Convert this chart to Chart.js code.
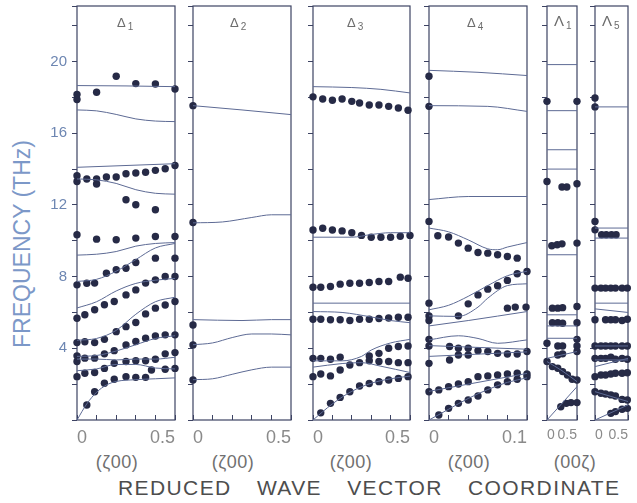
<!DOCTYPE html>
<html>
<head>
<meta charset="utf-8">
<script src="https://cdn.jsdelivr.net/npm/chart.js@4.4.1/dist/chart.umd.min.js"></script>
<style>
  body { margin: 0; background: #fff; }
  #wrap { position: relative; width: 637px; height: 503px; overflow: hidden; font-family: "Liberation Sans", "DejaVu Sans", sans-serif; }
  canvas { position: absolute; }
  .lbl { position: absolute; white-space: nowrap; color: #6c6c6c; }
  .pname { font-size: 13px; line-height: 13px; }
  .pname sub { font-size: 10px; vertical-align: -3px; margin-left: 2px; }
  .qlbl { font-size: 18px; color: #707070; letter-spacing: 0.5px; transform: translateX(-50%); top: 452px; }
  #ytitle { left: 22px; top: 244px; font-size: 23px; color: #7c98c8; transform: translate(-50%, -50%) rotate(-90deg); }
  #xtitle { left: 118px; top: 476px; font-size: 21px; color: #4d4d4d; letter-spacing: 1.4px; word-spacing: 18px; }
</style>
</head>
<body>
<div id="wrap">
  <div class="lbl" id="ytitle">FREQUENCY (THz)</div>
  <div class="lbl" id="xtitle">REDUCED WAVE VECTOR COORDINATE</div>
</div>
<script>
// frequency axis (THz)
const freqMax = 23.1;
const freqStep = 2;
const freqLabels = ["4", "8", "12", "16", "20"];

// --- Δ1 ---
const d1Lines = [
  [[0, 18.66], [0.25, 18.64], [0.5, 18.6]],
  [[0, 17.3], [0.1, 17.25], [0.2, 17.05], [0.3, 16.8], [0.4, 16.68], [0.5, 16.65]],
  [[0, 14.1], [0.25, 14.2], [0.5, 14.3]],
  [[0, 13.45], [0.1, 13.4], [0.2, 13.2], [0.3, 12.85], [0.4, 12.65], [0.5, 12.6]],
  [[0, 9.2], [0.1, 9.25], [0.2, 9.4], [0.3, 9.7], [0.4, 9.85], [0.5, 9.9]],
  [[0, 7.73], [0.1, 7.85], [0.2, 8.3], [0.3, 8.95], [0.4, 9.6], [0.5, 9.85]],
  [[0, 6.25], [0.1, 6.6], [0.2, 7.2], [0.3, 7.62], [0.4, 7.8], [0.5, 7.9]],
  [[0, 4.45], [0.1, 4.55], [0.2, 5.0], [0.3, 5.9], [0.4, 6.6], [0.5, 6.85]],
  [[0, 3.55], [0.1, 3.6], [0.2, 3.85], [0.3, 4.2], [0.4, 4.55], [0.5, 4.7]],
  [[0, 3.4], [0.1, 3.4], [0.2, 3.35], [0.3, 3.4], [0.4, 3.4], [0.5, 3.5]],
  [[0, 2.75], [0.1, 2.85], [0.2, 3.1], [0.3, 3.1], [0.4, 2.9], [0.5, 2.85]],
  [[0, 0], [0.05, 0.9], [0.1, 1.55], [0.15, 1.95], [0.2, 2.15], [0.3, 2.25], [0.4, 2.3], [0.5, 2.35]]
];
const d1Dots = [
  [0, 18.16], [0, 17.88], [0.1, 18.29], [0.2, 19.18], [0.3, 18.77], [0.4, 18.75], [0.5, 18.47],
  [0, 13.63], [0, 13.31], [0.05, 13.45], [0.1, 13.45], [0.1, 13.17], [0.15, 13.56], [0.2, 13.56],
  [0.25, 13.74], [0.3, 13.78], [0.35, 13.82], [0.4, 13.93], [0.45, 14.02], [0.5, 14.2],
  [0.25, 12.29], [0.3, 12.01], [0.4, 11.73],
  [0, 10.34], [0.1, 10.09], [0.2, 10.06], [0.3, 10.15], [0.4, 10.24], [0.5, 10.24],
  [0, 7.54], [0.05, 7.63], [0.09, 7.64], [0.15, 8.19], [0.2, 8.38], [0.25, 8.47], [0.3, 8.79], [0.4, 9.03], [0.5, 9.03],
  [0, 5.68], [0.04, 5.87], [0.09, 6.15], [0.14, 6.43], [0.19, 6.61], [0.25, 6.98], [0.3, 7.26],
  [0.35, 7.64], [0.4, 7.82], [0.45, 8.01], [0.5, 8.01],
  [0, 4.32], [0.04, 4.37], [0.09, 4.32], [0.14, 4.5], [0.2, 4.93], [0.25, 5.21], [0.3, 5.44],
  [0.35, 5.92], [0.4, 6.24], [0.45, 6.42], [0.5, 6.61],
  [0, 3.58], [0.04, 3.45], [0.09, 3.45], [0.14, 3.69], [0.19, 3.87], [0.25, 4.19], [0.3, 4.38],
  [0.35, 4.56], [0.4, 4.69], [0.45, 4.75], [0.5, 4.75],
  [0, 3.26], [0.19, 3.17], [0.25, 3.26], [0.3, 3.31], [0.35, 3.31], [0.4, 3.39], [0.45, 3.69], [0.5, 3.76],
  [0, 2.42], [0.04, 2.61], [0.09, 2.65], [0.14, 2.88], [0.38, 2.79], [0.45, 2.83], [0.5, 2.88],
  [0.05, 0.84], [0.09, 1.58], [0.14, 2.05], [0.19, 2.27], [0.25, 2.42], [0.3, 2.38], [0.35, 2.38]
];

// --- Δ2 ---
const d2Lines = [
  [[0, 17.54], [0.25, 17.3], [0.5, 17.04]],
  [[0, 11.0], [0.15, 11.05], [0.3, 11.3], [0.4, 11.45], [0.5, 11.45]],
  [[0, 5.6], [0.25, 5.55], [0.4, 5.6], [0.5, 5.6]],
  [[0, 4.2], [0.1, 4.3], [0.2, 4.6], [0.3, 4.8], [0.4, 4.8], [0.5, 4.75]],
  [[0, 2.25], [0.1, 2.3], [0.2, 2.55], [0.3, 2.8], [0.4, 2.95], [0.5, 2.95]]
];
const d2Dots = [[0, 17.54], [0, 11.02], [0, 5.3], [0, 4.19], [0, 2.23]];

// --- Δ3 ---
const d3Lines = [
  [[0, 18.6], [0.2, 18.55], [0.35, 18.45], [0.5, 18.25]],
  [[0, 10.2], [0.2, 10.2], [0.3, 10.35], [0.4, 10.45], [0.5, 10.45]],
  [[0, 6.52], [0.5, 6.52]],
  [[0, 6.05], [0.15, 6.0], [0.3, 5.75], [0.4, 5.55], [0.5, 5.43]],
  [[0, 3.3], [0.15, 3.3], [0.25, 3.55], [0.3, 3.9], [0.4, 4.3], [0.5, 4.5]],
  [[0, 2.95], [0.15, 3.15], [0.25, 3.2], [0.35, 3.0], [0.5, 2.65]],
  [[0, 0], [0.1, 0.9], [0.2, 1.6], [0.3, 2.05], [0.4, 2.3], [0.5, 2.45]]
];
const d3Dots = [
  [0, 18.03], [0.05, 17.91], [0.1, 17.84], [0.15, 17.91], [0.2, 17.78], [0.24, 17.69],
  [0.29, 17.58], [0.34, 17.58], [0.39, 17.5], [0.44, 17.41], [0.49, 17.28],
  [0, 10.6], [0.05, 10.7], [0.1, 10.6], [0.15, 10.55], [0.2, 10.45], [0.25, 10.3],
  [0.3, 10.2], [0.35, 10.2], [0.4, 10.2], [0.45, 10.25], [0.5, 10.3],
  [0, 7.41], [0.04, 7.41], [0.09, 7.45], [0.14, 7.58], [0.19, 7.63], [0.24, 7.63],
  [0.29, 7.67], [0.34, 7.73], [0.39, 7.73], [0.45, 7.97], [0.49, 7.91],
  [0, 5.62], [0.04, 5.62], [0.09, 5.59], [0.14, 5.59], [0.19, 5.55], [0.24, 5.62],
  [0.29, 5.62], [0.34, 5.66], [0.39, 5.69], [0.44, 5.73], [0.49, 5.73],
  [0, 3.44], [0.04, 3.44], [0.09, 3.39], [0.14, 3.5], [0.29, 3.57], [0.34, 3.72], [0.39, 4.0], [0.44, 4.1], [0.49, 4.13],
  [0.19, 3.07], [0.24, 3.2], [0.29, 3.31], [0.34, 3.26], [0.39, 3.26], [0.44, 3.2], [0.49, 3.2],
  [0, 2.42], [0.04, 2.57], [0.09, 2.46], [0.14, 2.79],
  [0.04, 0.4], [0.09, 0.93], [0.14, 1.26], [0.19, 1.58], [0.24, 1.9], [0.29, 2.04],
  [0.34, 2.14], [0.39, 2.23], [0.44, 2.32], [0.49, 2.42]
];

// --- Δ4 ---
const d4Lines = [
  [[0, 19.51], [0.05, 19.4], [0.1, 19.22]],
  [[0, 17.54], [0.06, 17.5], [0.1, 17.22]],
  [[0, 12.3], [0.04, 12.47], [0.1, 12.47]],
  [[0, 10.71], [0.02, 10.5], [0.04, 10.05], [0.06, 9.55], [0.07, 9.5], [0.08, 9.65], [0.1, 9.9]],
  [[0, 6.15], [0.02, 6.4], [0.04, 6.9], [0.06, 7.5], [0.08, 8.05], [0.1, 8.3]],
  [[0, 5.81], [0.03, 5.78], [0.05, 6.3], [0.06, 6.8], [0.08, 7.5], [0.1, 7.6]],
  [[0, 5.25], [0.04, 5.55], [0.1, 6.05]],
  [[0, 4.47], [0.03, 4.7], [0.05, 4.55], [0.07, 4.28], [0.1, 4.47]],
  [[0, 4.15], [0.05, 4.05], [0.1, 3.95]],
  [[0, 3.55], [0.1, 3.8]],
  [[0, 1.6], [0.05, 2.1], [0.1, 2.6]],
  [[0, 0], [0.02, 0.6], [0.04, 1.2], [0.06, 1.7], [0.08, 2.1], [0.1, 2.35]]
];
const d4Dots = [
  [0, 19.18], [0, 17.5], [0, 11.08],
  [0.009, 10.28], [0.02, 10.21], [0.03, 9.87], [0.04, 9.59], [0.05, 9.35], [0.06, 9.31], [0.07, 9.22], [0.08, 9.12], [0.09, 9.03],
  [0, 6.52], [0, 5.8], [0, 5.55],
  [0.03, 5.81], [0.04, 6.48], [0.05, 6.98], [0.06, 7.3], [0.07, 7.49], [0.08, 7.79], [0.09, 8.16], [0.1, 8.29],
  [0.08, 6.24], [0.088, 6.3], [0.099, 6.3],
  [0, 4.5], [0, 4.13], [0, 3.16],
  [0.021, 4.1], [0.03, 4.0], [0.04, 4.0], [0.05, 3.87], [0.06, 3.82], [0.07, 3.72], [0.08, 3.68], [0.09, 3.68], [0.1, 3.82],
  [0.021, 3.35], [0.03, 3.63], [0.04, 3.63],
  [0, 1.58], [0.01, 1.68], [0.02, 1.86], [0.03, 2.01], [0.04, 2.14], [0.05, 2.42], [0.06, 2.46],
  [0.07, 2.51], [0.08, 2.57], [0.09, 2.61], [0.1, 2.57],
  [0.01, 0.28], [0.02, 0.65], [0.03, 0.93], [0.04, 1.12], [0.05, 1.34], [0.06, 1.68], [0.07, 1.96],
  [0.08, 2.14], [0.09, 2.27], [0.1, 2.42]
];

// --- Λ1 ---
const l1Lines = [
  [[0, 19.83], [0.5, 19.83]], [[0, 17.26], [0.5, 17.26]], [[0, 15.08], [0.5, 15.08]],
  [[0, 14.0], [0.5, 14.0]], [[0, 9.22], [0.5, 9.22]], [[0, 5.87], [0.5, 5.87]],
  [[0, 5.25], [0.5, 5.25]], [[0, 4.56], [0.5, 4.56]],
  [[0, 3.44], [0.5, 3.82]],
  [[0, 3.26], [0.25, 2.75], [0.5, 2.14]],
  [[0, 0], [0.5, 1.86]]
];
const l1Dots = [
  [0, 17.78], [0.5, 17.78], [0, 13.31], [0.5, 13.18], [0.25, 13.0], [0.33, 13.0],
  [0.08, 9.72], [0.17, 9.78], [0.25, 9.83], [0.5, 9.87],
  [0.09, 6.24], [0.18, 6.24], [0.26, 6.27], [0.5, 6.33],
  [0.09, 5.43], [0.18, 5.43], [0.26, 5.4], [0.5, 5.43],
  [0, 4.28], [0.18, 4.13], [0.26, 4.13], [0.5, 4.5], [0.5, 4.13], [0.5, 3.82],
  [0.18, 3.63], [0.26, 3.69],
  [0, 3.26], [0.09, 2.98], [0.18, 2.89], [0.26, 2.7], [0.34, 2.51], [0.42, 2.27], [0.5, 2.23],
  [0.23, 0.74], [0.32, 0.93], [0.4, 0.97], [0.5, 0.97]
];

// --- Λ5 ---
const l5Lines = [
  [[0, 17.47], [0.5, 17.47]], [[0, 10.71], [0.5, 10.71]], [[0, 10.15], [0.5, 10.15]],
  [[0, 6.52], [0.5, 6.52]], [[0, 6.2], [0.5, 6.0]], [[0, 4.13], [0.5, 4.13]],
  [[0, 3.35], [0.5, 3.35]], [[0, 2.98], [0.5, 3.44]],
  [[0, 1.58], [0.5, 1.03]], [[0, 0], [0.5, 0.84]]
];
const l5Dots = [
  [0, 17.97], [0, 17.47], [0, 11.08], [0, 10.61], [0.1, 10.34], [0.17, 10.34], [0.25, 10.34], [0.32, 10.34],
  [0, 7.36], [0.09, 7.36], [0.16, 7.36], [0.24, 7.36], [0.31, 7.36], [0.41, 7.36], [0.49, 7.36],
  [0, 5.59], [0.16, 5.59], [0.24, 5.59], [0.31, 5.59], [0.41, 5.55], [0.49, 5.62],
  [0, 4.13], [0.09, 4.13], [0.16, 4.13], [0.24, 4.13], [0.31, 4.13], [0.41, 4.13], [0.49, 4.13],
  [0, 3.44], [0.09, 3.44], [0.16, 3.44], [0.24, 3.5], [0.31, 3.39], [0.41, 3.44], [0.49, 3.39],
  [0, 2.42], [0.09, 2.51], [0.16, 2.51], [0.24, 2.57], [0.31, 2.61], [0.41, 2.61], [0.49, 2.64],
  [0, 1.58], [0.09, 1.49], [0.16, 1.45], [0.24, 1.4], [0.31, 1.34], [0.41, 1.15], [0.49, 1.12],
  [0.24, 0.37], [0.31, 0.47], [0.41, 0.6], [0.49, 0.65]
];

const panels = [
  { name: "Δ", sub: "1", lines: d1Lines, dots: d1Dots, xMax: 0.5, xStep: 0.1, xLabels: ["0", "0.5"] },
  { name: "Δ", sub: "2", lines: d2Lines, dots: d2Dots, xMax: 0.5, xStep: 0.1, xLabels: ["0", "0.5"] },
  { name: "Δ", sub: "3", lines: d3Lines, dots: d3Dots, xMax: 0.5, xStep: 0.1, xLabels: ["0", "0.5"] },
  { name: "Δ", sub: "4", lines: d4Lines, dots: d4Dots, xMax: 0.1, xStep: 0.02, xLabels: ["0", "0.1"] },
  { name: "Λ", sub: "1", lines: l1Lines, dots: l1Dots, xMax: 0.5, xStep: 0.5, xLabels: ["0", "0.5"] },
  { name: "Λ", sub: "5", lines: l5Lines, dots: l5Dots, xMax: 0.5, xStep: 0.5, xLabels: ["0", "0.5"] }
];

// direction labels under the panels
const dirLabels = [
  { text: "(ζ00)", x: 117 },
  { text: "(ζ00)", x: 233 },
  { text: "(ζ00)", x: 351 },
  { text: "(ζ00)", x: 469 },
  { text: "(00ζ)", x: 575 }
];

// page layout of the six frames
const boxes = [
  { left: 77, width: 98, padL: 77, nameX: 117, nameSize: 13, tickSize: 18 },
  { left: 193, width: 98, padL: 14, nameX: 230, nameSize: 13, tickSize: 18 },
  { left: 313, width: 97, padL: 14, nameX: 347, nameSize: 13, tickSize: 18 },
  { left: 429, width: 98, padL: 14, nameX: 467, nameSize: 13, tickSize: 18 },
  { left: 547, width: 30, padL: 14, nameX: 554, nameSize: 15, tickSize: 14 },
  { left: 595, width: 33, padL: 14, nameX: 602, nameSize: 15, tickSize: 14 }
];

const frameColor = "#3d4363";
const lineColor = "#5d6a94";
const dotColor = "#262a46";

const framePlugin = {
  id: "frame",
  beforeDatasetsDraw(chart) {
    const { ctx, chartArea: a } = chart;
    ctx.save();
    ctx.strokeStyle = frameColor;
    ctx.lineWidth = 1.2;
    ctx.strokeRect(a.left, a.top, a.right - a.left, a.bottom - a.top);
    ctx.restore();
  }
};

const wrap = document.getElementById("wrap");

dirLabels.forEach(function (d) {
  const el = document.createElement("div");
  el.className = "lbl qlbl";
  el.style.left = d.x + "px";
  el.textContent = d.text;
  wrap.appendChild(el);
});

panels.forEach(function (p, i) {
  const b = boxes[i];
  const padR = 14;
  const canvas = document.createElement("canvas");
  canvas.width = b.padL + b.width + padR;
  canvas.height = 482;
  canvas.style.left = (b.left - b.padL) + "px";
  canvas.style.top = "-10px";
  wrap.appendChild(canvas);

  const nameEl = document.createElement("div");
  nameEl.className = "lbl pname";
  nameEl.style.left = b.nameX + "px";
  nameEl.style.top = (b.nameSize > 13 ? 14 : 16) + "px";
  nameEl.style.fontSize = b.nameSize + "px";
  nameEl.innerHTML = p.name + "<sub>" + p.sub + "</sub>";
  wrap.appendChild(nameEl);

  const datasets = p.lines.map(function (pts) {
    return {
      data: pts.map(function (q) { return { x: q[0], y: q[1] }; }),
      showLine: true,
      borderColor: lineColor,
      borderWidth: 1,
      pointRadius: 0,
      cubicInterpolationMode: "monotone",
      clip: false
    };
  });
  datasets.push({
    data: p.dots.map(function (q) { return { x: q[0], y: q[1] }; }),
    showLine: false,
    pointRadius: 3.7,
    pointBorderWidth: 0,
    backgroundColor: dotColor,
    clip: false
  });

  const first = i === 0;
  new Chart(canvas, {
    type: "scatter",
    data: { datasets: datasets },
    plugins: [framePlugin],
    options: {
      responsive: false,
      animation: false,
      devicePixelRatio: 1,
      events: [],
      layout: { padding: { top: 16, right: padR, left: 0, bottom: 0 } },
      plugins: { legend: { display: false }, tooltip: { enabled: false } },
      scales: {
        x: {
          type: "linear",
          min: 0,
          max: p.xMax,
          afterFit: function (s) { s.height = 52; },
          border: { display: false },
          grid: { drawOnChartArea: false, drawTicks: true, tickLength: -5, color: frameColor },
          ticks: {
            stepSize: p.xStep,
            autoSkip: false,
            maxRotation: 0,
            align: "inner",
            padding: 12,
            color: "#8a8a8a",
            font: { family: "Liberation Sans", size: b.tickSize },
            callback: function (v, idx, ticks) {
              if (idx === 0) return p.xLabels[0];
              if (idx === ticks.length - 1) return p.xLabels[1];
              return "";
            }
          }
        },
        y: {
          min: 0,
          max: freqMax,
          afterFit: function (s) { s.width = b.padL; },
          border: { display: false },
          grid: { drawOnChartArea: false, drawTicks: true, tickLength: 5, color: frameColor },
          ticks: {
            display: first,
            stepSize: freqStep,
            autoSkip: false,
            padding: 5,
            color: "#6d86b2",
            font: { family: "Liberation Sans", size: 15 },
            callback: function (v) {
              const s = String(Math.round(v));
              return freqLabels.indexOf(s) >= 0 ? s : "";
            }
          }
        }
      }
    }
  });
});
</script>
</body>
</html>
